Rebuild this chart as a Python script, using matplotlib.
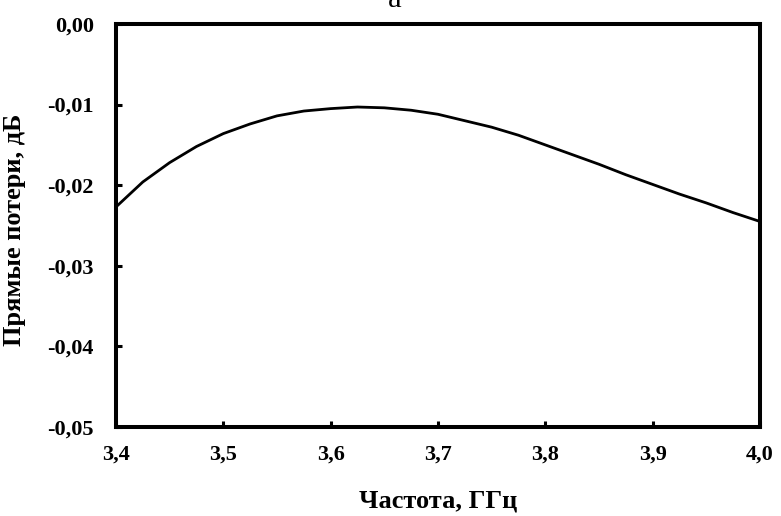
import matplotlib
matplotlib.use("Agg")
import matplotlib.pyplot as plt
from matplotlib.ticker import FixedLocator, FixedFormatter

plt.rcParams['font.family'] = ['Liberation Serif', 'DejaVu Serif']
plt.rcParams['font.weight'] = 'bold'

# частота, ГГц и прямые потери, дБ
freq = [3.400, 3.425, 3.450, 3.475, 3.500, 3.525, 3.550, 3.575, 3.600, 3.625,
        3.650, 3.675, 3.700, 3.725, 3.750, 3.775, 3.800, 3.825, 3.850, 3.875,
        3.900, 3.925, 3.950, 3.975, 4.000]
loss = [-0.0227, -0.0196, -0.0172, -0.0152, -0.0136, -0.0124, -0.0114, -0.0108,
        -0.0105, -0.0103, -0.0104, -0.0107, -0.0112, -0.0120, -0.0128, -0.0138,
        -0.0150, -0.0162, -0.0174, -0.0187, -0.0199, -0.0211, -0.0222, -0.0234,
        -0.0245]

x_ticks = [3.4, 3.5, 3.6, 3.7, 3.8, 3.9, 4.0]
x_labels = ['3,4', '3,5', '3,6', '3,7', '3,8', '3,9', '4,0']
y_ticks = [0.0, -0.01, -0.02, -0.03, -0.04, -0.05]
y_labels = ['0,00', '-0,01', '-0,02', '-0,03', '-0,04', '-0,05']

fig = plt.figure(figsize=(7.81, 5.16), dpi=100)
ax = fig.add_axes([0.1485, 0.1725, 0.8245, 0.781])

ax.plot(freq, loss, color='black', linewidth=2.0)

ax.set_xlim(3.4, 4.0)
ax.set_ylim(-0.05, 0.0)
ax.xaxis.set_major_locator(FixedLocator(x_ticks))
ax.xaxis.set_major_formatter(FixedFormatter(x_labels))
ax.yaxis.set_major_locator(FixedLocator(y_ticks))
ax.yaxis.set_major_formatter(FixedFormatter(y_labels))

for s in ax.spines.values():
    s.set_linewidth(2.9)
ax.tick_params(direction='in', length=4, width=2.2, labelsize=16, pad=13)
ax.tick_params(axis='y', pad=16)

ax.set_xlabel('Частота, ГГц', fontsize=19, fontweight='bold')
ax.set_ylabel('Прямые потери, дБ', fontsize=19, fontweight='bold')
ax.xaxis.set_label_coords(0.5, -0.155)
ax.yaxis.set_label_coords(-0.14, 0.49)

fig.text(0.506, 0.986, 'a', fontsize=22, ha='center', va='baseline',
         fontweight='normal')

fig.savefig('out.png', dpi=100)
